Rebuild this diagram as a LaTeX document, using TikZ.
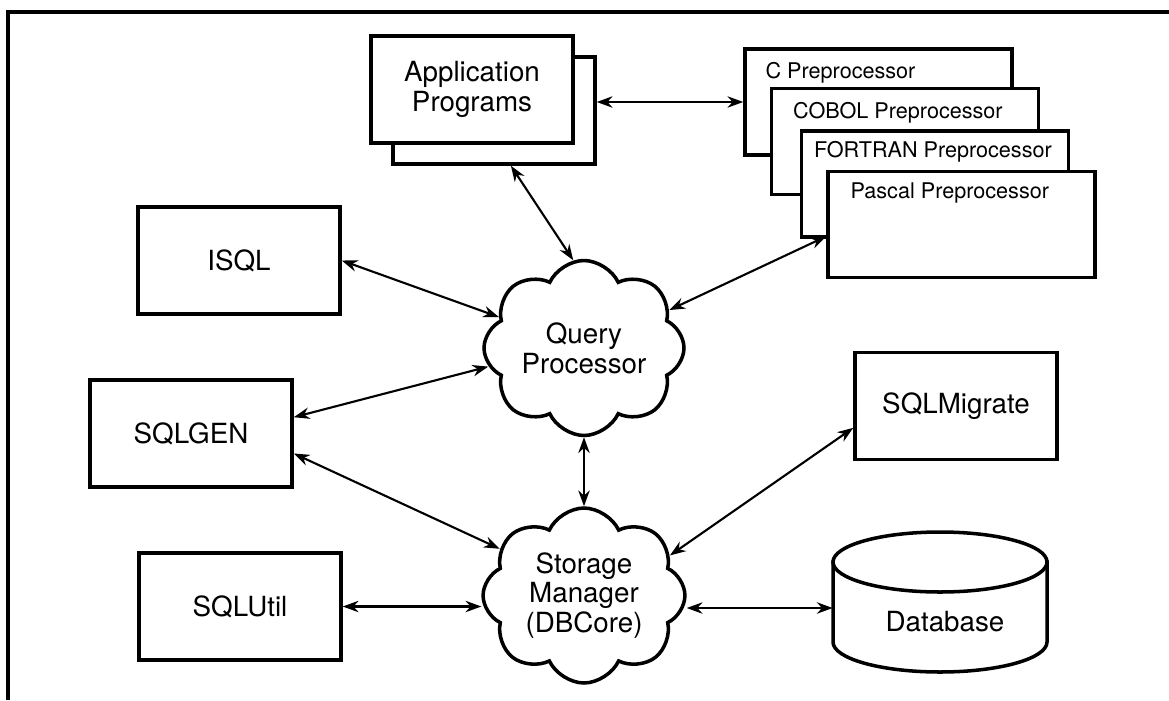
\documentclass[tikz,border=0pt]{standalone}
\usepackage{fontspec}
\setmainfont{TeX Gyre Heros}
\usetikzlibrary{shapes.symbols, arrows.meta}

\begin{document}
\begin{tikzpicture}[
        x = 0.02cm, y = -0.02cm,
        >= {Stealth[length = 9pt, width = 6.5pt]},
        box/.style = {draw, line width = 2pt, fill = white, minimum width = 4.04cm, minimum height = 2.14cm, align = center, font = \fontsize{15.8}{17}\selectfont},
        ppbox/.style = {draw, line width = 2pt, fill = white, minimum width = 5.34cm, minimum height = 2.12cm},
        pplabel/.style = {anchor = base west, inner sep = 0pt, font = \fontsize{12.3}{14}\selectfont},
        puff/.style = {draw, cloud, cloud puffs = 8, cloud puff arc = 130, cloud ignores aspect, line width = 2pt, fill = white, minimum width = 3.96cm, minimum height = 3.5cm, align = center, font = \fontsize{15.8}{17}\selectfont},
        link/.style = {<->, line width = 1.2pt}
    ]
    \useasboundingbox (0, 0) rectangle (1169, 700);
    \draw [line width = 2pt] (8, 700) -- (8, 12) -- (1169, 12);

    \node [box] (appback) at (494, 110.5) {};
    \node [box] (app) at (472, 89.5) {Application\\Programs};

    \node [ppbox] (cpp) at (878.5, 102) {};
    \node [pplabel] (cpplabel) at ([shift = {(22, 31)}]cpp.north west) {C Preprocessor};
    \node [ppbox] (cobol) at (905, 141.5) {};
    \node [pplabel] (cobollabel) at ([shift = {(23, 32)}]cobol.north west) {COBOL Preprocessor};
    \node [ppbox] (fortran) at (935, 184) {};
    \node [pplabel] (fortranlabel) at ([shift = {(14, 28)}]fortran.north west) {FORTRAN Preprocessor};
    \node [ppbox] (pascal) at (961.5, 224.5) {};
    \node [pplabel] (pascallabel) at ([shift = {(24, 29)}]pascal.north west) {Pascal Preprocessor};

    \node [box] (isql) at (239, 260.5) {ISQL};
    \node [box] (sqlgen) at (191, 433.5) {SQLGEN};
    \node [box] (sqlutil) at (240, 606.5) {SQLUtil};
    \node [box] (sqlmigrate) at (956, 406) {SQLMigrate};

    \node [puff] (qp) at (584, 348) {Query\\Processor};
    \node [puff] (sm) at (584, 595.5) {Storage\\Manager\\(DBCore)};

    \draw [line width = 2pt, fill = white]
        (833, 562) -- (833, 642) arc (180:0:107 and 30) -- (1047, 562) -- cycle
    ;
    \draw [line width = 2pt, fill = white] (940, 562) ellipse (107 and 30);
    \node [minimum width = 4.28cm, minimum height = 1.8cm, inner sep = 0pt] (db) at (940, 608) {};
    \node [font = \fontsize{15.8}{17}\selectfont] (dblabel) at (945, 622) {Database};

    \draw [link] (appback.-73) -- (qp.97);
    \draw [link] (appback.east |- cpp.west) -- (cpp.west);
    \draw [link] (qp.24) -- (pascal.185);
    \draw [link] (isql.east) -- (qp.160);
    \draw [link] (sqlgen.9) -- (qp.191);
    \draw [link] (sqlgen.-11) -- (sm.151);
    \draw [link] (sqlutil.east) -- (sqlutil.east -| sm.west);
    \draw [link] (qp.south) -- (sm.north);
    \draw [link] (sm.25) -- (sqlmigrate.192);
    \draw [link] (sm.east |- db.west) -- (db.west);
\end{tikzpicture}
\end{document}
